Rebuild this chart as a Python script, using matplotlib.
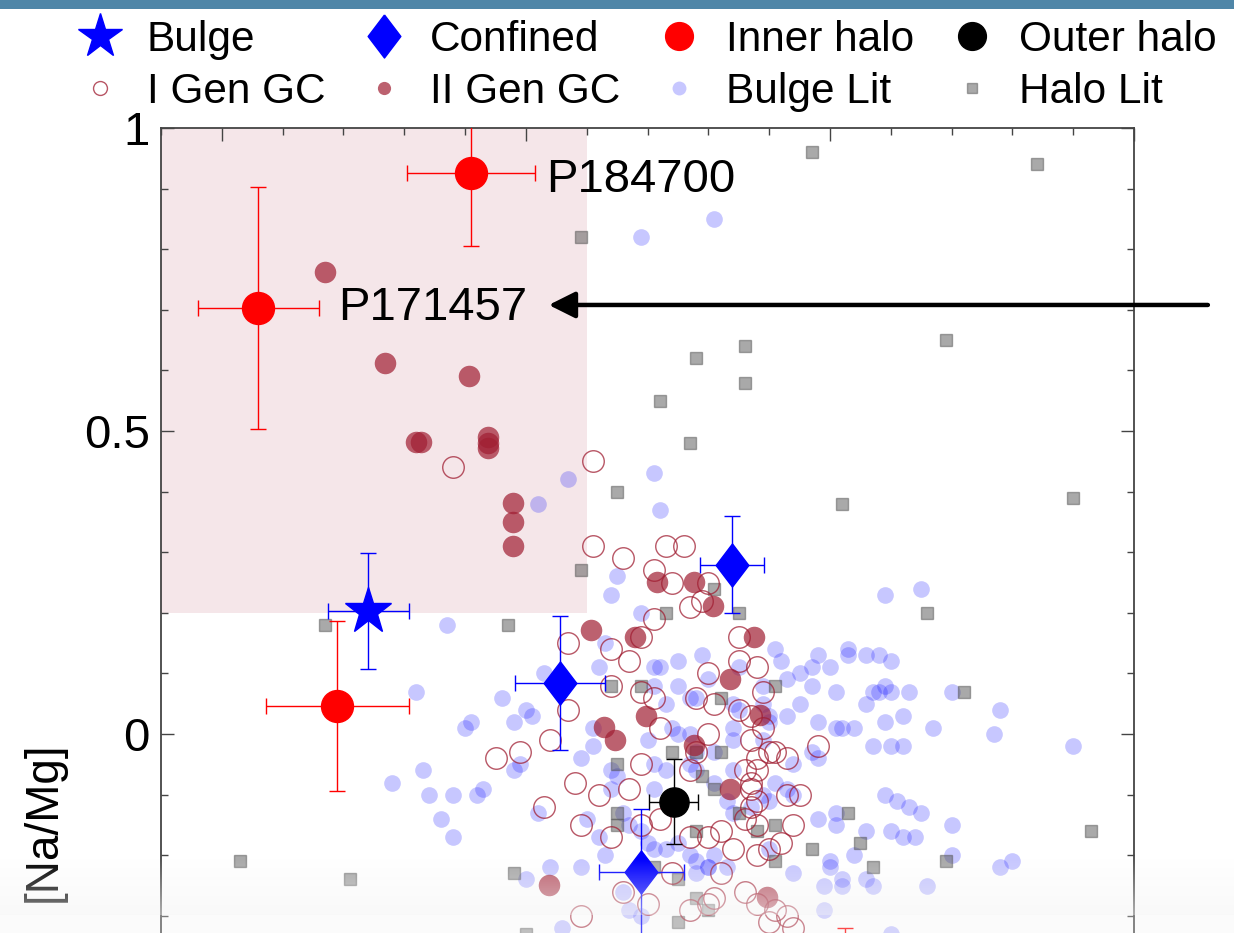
import numpy as np
import matplotlib
matplotlib.use("Agg")
import matplotlib.pyplot as plt
from matplotlib.lines import Line2D

plt.rcParams["font.family"] = ["Liberation Sans", "DejaVu Sans"]

# --- programme stars (with errors) -------------------------------------------
inner_x = [-1.59, -1.94, -1.81, -0.975]
inner_y = [0.926, 0.703, 0.046, -0.45]
inner_xerr = [0.105, 0.10, 0.117, 0.10]
inner_yerr = [0.12, 0.20, 0.14, 0.13]

outer_x = [-1.257]
outer_y = [-0.112]
outer_xerr = [0.04]
outer_yerr = [0.07]

bulge_x = [-1.759]
bulge_y = [0.203]
bulge_xerr = [0.066]
bulge_yerr = [0.096]

conf_x = [-1.161, -1.444, -1.31]
conf_y = [0.279, 0.084, -0.228]
conf_xerr = [0.053, 0.074, 0.07]
conf_yerr = [0.08, 0.11, 0.105]

labels_named = ["P184700", "P171457"]
label_x = [-1.467, -1.808]
label_y = [0.914, 0.703]

# --- globular clusters ---------------------------------------------------------
gc1_x = [-1.62, -1.39, -1.39, -1.34, -1.27, -1.24, -1.29, -1.26, -1.20, -1.21,
         -1.23, -1.29, -1.43, -1.36, -1.31, -1.33, -1.15, -1.15, -1.12, -1.20,
         -1.36, -1.31, -1.29, -1.22, -1.19, -1.15, -1.13, -1.11, -1.11, -1.43,
         -1.46, -1.20, -1.02, -1.55, -1.51, -1.42, -1.47, -1.41, -1.28, -1.13,
         -1.10, -1.09, -1.12, -1.07, -1.14, -1.12, -1.13, -1.13, -1.31, -1.38,
         -1.33, -1.23, -1.07, -1.05, -1.13, -1.14, -1.28, -1.31, -1.36, -1.41,
         -1.23, -1.20, -1.18, -1.16, -1.12, -1.10, -1.08, -1.06, -1.26, -1.18,
         -1.30, -1.34, -1.23, -1.20, -1.19, -1.14, -1.12, -1.09, -1.07, -1.06,
         -1.10, -1.12, -1.12, -1.22]
gc1_y = [0.44, 0.45, 0.31, 0.29, 0.31, 0.31, 0.27, 0.25, 0.25, 0.22,
         0.21, 0.19, 0.15, 0.14, 0.16, 0.12, 0.16, 0.12, 0.11, 0.10,
         0.08, 0.07, 0.06, 0.06, 0.05, 0.04, 0.03, 0.07, 0.01, 0.04,
         -0.01, 0.00, -0.02, -0.04, -0.03, -0.08, -0.12, -0.30, 0.01, -0.01,
         -0.03, -0.03, -0.04, -0.04, -0.06, -0.06, -0.08, -0.09, -0.05, -0.10,
         -0.09, -0.06, -0.10, -0.10, -0.12, -0.14, -0.14, -0.15, -0.17, -0.15,
         -0.17, -0.17, -0.16, -0.19, -0.20, -0.19, -0.18, -0.15, -0.23, -0.23,
         -0.28, -0.26, -0.29, -0.28, -0.27, -0.26, -0.28, -0.29, -0.30, -0.32,
         -0.31, -0.15, -0.11, -0.03]

gc2_x = [-1.830, -1.731, -1.593, -1.680, -1.672, -1.562, -1.562, -1.562, -1.521,
         -1.521, -1.521, -1.393, -1.285, -1.223, -1.193, -1.321, -1.125, -1.164,
         -1.303, -1.372, -1.354, -1.115, -1.223, -1.164, -1.462, -1.103]
gc2_y = [0.762, 0.612, 0.591, 0.482, 0.482, 0.490, 0.480, 0.472, 0.381,
         0.350, 0.310, 0.172, 0.251, 0.251, 0.211, 0.160, 0.160, 0.091,
         0.030, 0.012, -0.010, 0.031, -0.018, -0.091, -0.249, -0.269]

# --- literature ----------------------------------------------------------------
blit_x = [-1.31, -1.19, -1.43, -1.48, -1.63, -1.29, -1.28, -1.35, -1.36, -1.31,
          -0.91, -0.85, -1.37, -1.38, -1.29, -1.28, -1.25, -1.21, -1.09, -1.08,
          -0.97, -0.97, -0.94, -0.92, -0.90, -1.02, -1.00, -1.03, -1.05, -1.07,
          -1.03, -0.99, -0.93, -0.91, -0.92, -0.94, -0.90, -0.87, -0.80, -0.72,
          -1.05, -1.07, -1.02, -0.99, -0.98, -0.96, -0.91, -0.88, -0.83, -0.73,
          -1.25, -1.29, -1.20, -1.11, -1.15, -1.27, -1.23, -1.22, -1.16, -1.15,
          -1.11, -1.10, -1.10, -1.26, -1.16, -1.47, -1.54, -1.59, -1.52, -1.50,
          -1.49, -1.68, -0.93, -0.90, -0.88, -0.60, -1.06, -1.03, -1.02, -0.91,
          -0.89, -0.87, -0.85, -0.80, -1.02, -0.99, -0.99, -0.94, -0.96, -0.90,
          -0.88, -0.86, -0.80, -1.00, -1.00, -1.06, -1.01, -0.98, -0.98, -0.94,
          -0.93, -0.84, -0.72, -0.70, -1.01, -1.09, -1.07, -1.10, -0.90, -1.41,
          -1.39, -1.35, -1.36, -1.30, -1.29, -1.27, -1.22, -1.22, -1.19, -1.16,
          -1.11, -1.29, -1.29, -1.27, -1.25, -1.23, -1.22, -1.20, -1.19, -1.34,
          -1.33, -1.31, -1.41, -1.37, -1.38, -1.40, -1.16, -1.13, -1.11, -1.06,
          -1.16, -1.19, -1.17, -1.62, -1.58, -1.57, -1.64, -1.62, -1.52, -1.51,
          -1.48, -1.46, -1.50, -1.36, -1.34, -1.33, -1.31, -1.30, -1.44, -1.25,
          -1.23, -1.23, -1.22, -1.20, -1.17, -1.10, -1.60, -1.39, -1.67, -1.72,
          -1.66]
blit_y = [0.82, 0.85, 0.42, 0.38, 0.18, 0.43, 0.37, 0.26, 0.23, 0.20,
          0.23, 0.24, 0.15, 0.11, 0.11, 0.11, 0.12, 0.13, 0.14, 0.12,
          0.14, 0.13, 0.13, 0.13, 0.12, 0.13, 0.11, 0.11, 0.10, 0.09,
          0.08, 0.07, 0.07, 0.08, 0.07, 0.05, 0.07, 0.07, 0.07, 0.04,
          0.05, 0.03, 0.02, 0.01, 0.01, 0.01, 0.02, 0.03, 0.01, 0.00,
          0.08, 0.08, 0.09, 0.08, 0.11, 0.05, 0.06, 0.06, 0.05, 0.04,
          0.05, 0.03, 0.02, 0.01, 0.01, 0.10, 0.06, 0.02, 0.02, 0.04,
          0.03, 0.07, -0.02, -0.02, -0.02, -0.02, -0.05, -0.03, -0.04, -0.10,
          -0.11, -0.12, -0.13, -0.15, -0.14, -0.13, -0.15, -0.16, -0.20, -0.16,
          -0.17, -0.17, -0.20, -0.21, -0.22, -0.23, -0.25, -0.24, -0.25, -0.24,
          -0.25, -0.25, -0.22, -0.21, -0.29, -0.08, -0.09, -0.11, -0.33, -0.04,
          -0.02, -0.07, -0.06, -0.01, -0.05, -0.06, -0.03, -0.06, -0.03, -0.01,
          -0.01, -0.09, -0.19, -0.19, -0.18, -0.20, -0.21, -0.22, -0.20, -0.26,
          -0.29, -0.30, -0.22, -0.20, -0.17, -0.14, -0.13, -0.12, -0.10, -0.10,
          -0.06, -0.08, -0.11, -0.10, -0.10, -0.09, -0.14, -0.17, -0.06, -0.05,
          -0.13, -0.22, -0.24, -0.09, -0.13, -0.15, -0.16, -0.18, -0.32, 0.00,
          0.00, -0.05, -0.23, -0.22, -0.22, -0.19, 0.01, 0.01, -0.06, -0.08,
          -0.10]

hlit_x = [-1.03, -0.66, -1.41, -0.81, -1.22, -1.14, -1.14, -1.28, -1.23, -1.35,
          -0.98, -0.60, -1.41, -1.19, -1.27, -1.15, -0.84, -1.53, -1.83, -1.36,
          -1.31, -1.18, -1.09, -0.78, -1.26, -1.22, -1.18, -1.35, -1.21, -1.19,
          -1.35, -1.35, -1.22, -1.15, -1.12, -1.09, -1.03, -1.09, -0.97, -0.95,
          -0.93, -0.81, -0.57, -1.52, -1.25, -1.22, -1.20, -1.25, -1.50, -1.97,
          -1.79, -1.29]
hlit_y = [0.96, 0.94, 0.82, 0.65, 0.62, 0.64, 0.58, 0.55, 0.48, 0.40,
          0.38, 0.39, 0.27, 0.24, 0.20, 0.20, 0.20, 0.18, 0.18, 0.08,
          0.08, 0.06, 0.08, 0.07, -0.03, -0.03, -0.03, -0.05, -0.07, -0.09,
          -0.13, -0.15, -0.16, -0.13, -0.16, -0.15, -0.19, -0.21, -0.13, -0.18,
          -0.22, -0.21, -0.16, -0.23, -0.24, -0.27, -0.29, -0.31, -0.33, -0.21,
          -0.24, -0.22]

# highlighted region (high Na/Mg, low metallicity)
box_x = (-2.1, -1.40)
box_y = (0.2, 1.0)

# --- figure --------------------------------------------------------------------
fig = plt.figure(figsize=(12.34, 9.33), dpi=100)
ax = fig.add_axes([0.1305, -0.1115, 0.7885, 0.9743])
ax.set_xlim(-2.1, -0.505)
ax.set_ylim(-0.5, 1.0)

ax.fill_between(box_x, box_y[0], box_y[1], color="#f5e6e9", lw=0, zorder=0)

ax.plot(blit_x, blit_y, "o", ms=12, color="blue", alpha=0.22, mec="none", zorder=2)
ax.plot(hlit_x, hlit_y, "s", ms=8.5, color="#555555", alpha=0.5, mew=1, zorder=3)
ax.plot(gc1_x, gc1_y, "o", ms=15.5, mfc="none", mec="#a01e32", alpha=0.75, mew=1.0, zorder=4)
ax.plot(gc2_x, gc2_y, "o", ms=15.5, color="#a01e32", alpha=0.7, mec="none", zorder=4)

ekw = dict(elinewidth=1.0, capsize=6, capthick=1.0, ls="none", zorder=6)
ax.errorbar(inner_x, inner_y, xerr=inner_xerr, yerr=inner_yerr, fmt="o", ms=23,
            color="red", mec="red", **ekw)
ax.errorbar(outer_x, outer_y, xerr=outer_xerr, yerr=outer_yerr, fmt="o", ms=21,
            color="black", **ekw)
ax.errorbar(bulge_x, bulge_y, xerr=bulge_xerr, yerr=bulge_yerr, fmt="*", ms=35,
            color="blue", **ekw)
diamond = [(0, 1), (0.76, 0), (0, -1), (-0.76, 0), (0, 1)]
ax.errorbar(conf_x, conf_y, xerr=conf_xerr, yerr=conf_yerr, fmt="none",
            ecolor="blue", **ekw)
ax.plot(conf_x, conf_y, ls="none", marker=diamond, ms=31, color="blue", zorder=7)

for name, tx, ty in zip(labels_named, label_x, label_y):
    ax.text(tx, ty, name, fontsize=34, ha="left", va="center", zorder=8)
ax.annotate("", xy=(-1.467, 0.708), xytext=(-0.374, 0.708),
            arrowprops=dict(arrowstyle="-|>", lw=3.2, color="black", mutation_scale=40),
            annotation_clip=False, zorder=8)

ax.set_yticks([0, 0.5, 1])
ax.set_yticklabels(["0", "0.5", "1"])
ax.set_yticks(np.arange(-0.5, 1.01, 0.1), minor=True)
ax.set_xticks([-2.0, -1.5, -1.0, -0.5])
ax.set_xticks(np.arange(-2.1, -0.5, 0.1), minor=True)
ax.tick_params(which="both", direction="in", top=True, right=True, width=1.0,
               colors="#444444", labelcolor="black", labelsize=34, pad=8)
ax.tick_params(which="major", length=9.5)
ax.tick_params(which="minor", length=5)
ax.set_xticklabels([])
for s in ax.spines.values():
    s.set_linewidth(1.3)
    s.set_color("#444444")
ax.set_ylabel("[Na/Mg]", fontsize=33)
ax.yaxis.set_label_coords(-0.098, 0.2365)

# --- legend --------------------------------------------------------------------
handles = [
    Line2D([], [], ls="none", marker="*", ms=33, color="blue"),
    Line2D([], [], ls="none", marker="o", ms=10, mfc="none", mec="#a01e32", alpha=0.75),
    Line2D([], [], ls="none", marker=diamond, ms=31, color="blue"),
    Line2D([], [], ls="none", marker="o", ms=9.5, color="#a01e32", alpha=0.7, mec="none"),
    Line2D([], [], ls="none", marker="o", ms=20, color="red"),
    Line2D([], [], ls="none", marker="o", ms=10, color="blue", alpha=0.22, mec="none"),
    Line2D([], [], ls="none", marker="o", ms=20, color="black"),
    Line2D([], [], ls="none", marker="s", ms=7, color="#555555", alpha=0.5),
]
labels = ["Bulge", "I Gen GC", "Confined", "II Gen GC",
          "Inner halo", "Bulge Lit", "Outer halo", "Halo Lit"]
fig.legend(handles, labels, ncol=4, loc="upper left", bbox_to_anchor=(0.064, 0.979),
           frameon=False, fontsize=30.5, handlelength=1.0, handletextpad=0.6,
           columnspacing=0.88, labelspacing=0.3, borderpad=0, borderaxespad=0)

# --- torn paper edges ------------------------------------------------------------
ov = fig.add_axes([0, 0, 1, 1], zorder=20)
ov.set_axis_off()
ov.set_xlim(0, 1)
ov.set_ylim(0, 1)
ov.add_patch(plt.Rectangle((0, 1 - 9 / 933), 1, 9 / 933, color="#4f86a8", lw=0))
grad = np.zeros((64, 2, 4))
grad[..., :3] = 0.96
grad[..., 3] = np.linspace(0.0, 0.55, 64)[:, None]
ov.imshow(grad, extent=[0, 1, 18 / 933, 75 / 933], aspect="auto", origin="upper")
ov.add_patch(plt.Rectangle((0, 0), 1, 18 / 933, color="#f4f4f4", alpha=0.3, lw=0))

fig.savefig("out.png", dpi=100)
